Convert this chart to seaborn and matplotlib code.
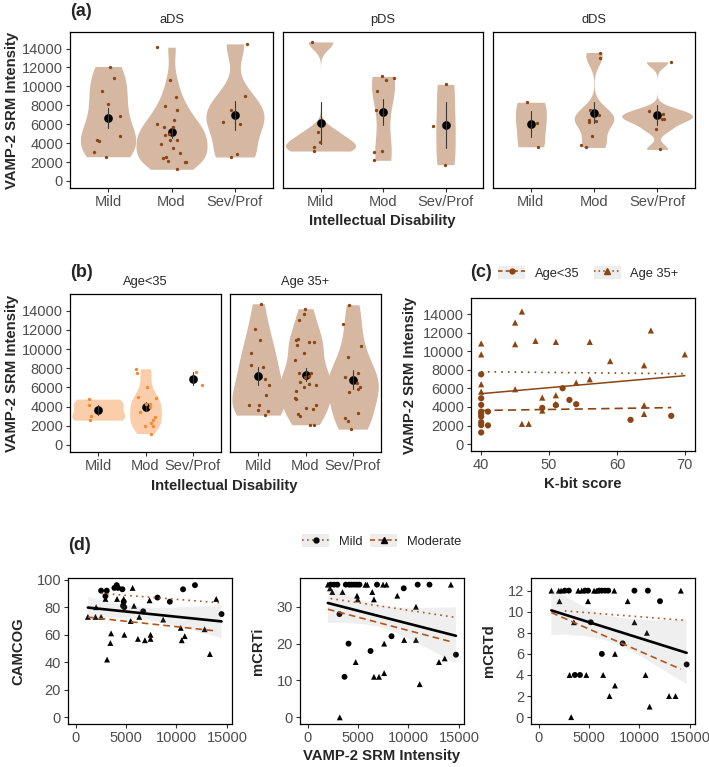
import numpy as np
import pandas as pd
import matplotlib
matplotlib.use("Agg")
import matplotlib.pyplot as plt
import seaborn as sns
from matplotlib.lines import Line2D
from matplotlib.patches import Patch

# ---- data ----
levels = ["Mild", "Mod", "Sev/Prof"]

# (a) VAMP-2 by region and ID level
ads_mild = [12100, 10880, 9540, 8100, 6840, 4740, 4320, 4210, 3050, 2560]
ads_mod = [14140, 10700, 8880, 7900, 7470, 6420, 5970, 5720, 5650, 4910, 4840,
           4320, 4280, 3930, 3470, 2910, 2530, 2390, 2100, 2000, 1970, 1230]
ads_sev = [14490, 8950, 7540, 6210, 6000, 2840, 2530]
pds_mild = [14700, 5160, 4070, 3540, 3160]
pds_mod = [11050, 10910, 10630, 9540, 7540, 3190, 3050, 2180]
pds_sev = [10210, 5830, 1720]
dds_mild = [8320, 6100, 3610]
dds_mod = [13580, 12980, 7540, 7020, 6490, 6350, 6210, 4700, 3750, 3540]
dds_sev = [12600, 7440, 7090, 6600, 6530, 5510, 3330]

# (b) VAMP-2 by age group and ID level
young_mild = [4770, 4150, 3000, 2580]
young_mod = [7940, 7490, 5990, 4950, 4840, 4280, 4250, 3940, 3450, 2930, 2540,
             2330, 1990, 1920, 1180]
young_sev = [7560, 6230]
old_mild = [14730, 12120, 10940, 9580, 8360, 8120, 6860, 6230, 5160, 4150, 4110,
            3590, 3520, 3100]
old_mod = [14210, 13660, 13030, 11040, 10940, 10760, 10690, 10450, 9610, 8850,
           7520, 7490, 7210, 7040, 6510, 6340, 6270, 6030, 5610, 4880, 4740,
           4180, 3800, 3760, 3170, 3030, 2120, 2090]
old_sev = [14630, 12610, 10270, 9190, 7520, 7070, 6480, 6030, 5850, 5470, 3310,
           2820, 2440, 1640]

# (c) K-bit score vs VAMP-2
kbit_young = [40, 40, 40, 40, 40, 40, 40, 40, 40, 41, 41, 49, 51, 52, 53, 54, 62, 68]
vamp_young = [7520, 4940, 4220, 3500, 3250, 2970, 2360, 2040, 1250, 3500, 2010,
              3900, 4200, 6020, 4760, 4300, 2610, 3040]
kbit_old = [40, 40, 40, 40, 45, 45, 45, 46, 46, 47, 48, 49, 49, 51, 51, 51, 54,
            56, 56, 59, 64, 65, 64, 64, 70]
vamp_old = [10850, 9670, 6450, 5650, 13100, 10770, 5910, 14290, 2180, 2180, 11130,
            5010, 3610, 11020, 5260, 4330, 6620, 11020, 6980, 8950, 8490, 12250,
            4190, 3250, 9670]

# (d) cognitive scores vs VAMP-2
cam_mild_x = [2530, 2960, 3090, 3850, 4080, 4210, 4640, 4700, 4770, 4830, 6700,
              8120, 9340, 10650, 11830, 14460]
cam_mild_y = [92, 88, 92, 94, 96, 94, 93, 81, 84, 80, 77, 87, 84, 93, 96, 75]
cam_mod_x = [1220, 1970, 2040, 2530, 2960, 3120, 3450, 3520, 4110, 4770, 4830,
             5460, 5650, 5790, 6180, 6310, 6870, 7330, 7430, 7430, 8680, 10420,
             10520, 10820, 12790, 13310, 13940]
cam_mod_y = [73, 73, 80, 73, 86, 42, 54, 61, 86, 86, 60, 70, 94, 81, 57, 73, 56,
             85, 60, 57, 71, 65, 56, 59, 64, 46, 86]

crti_mild_x = [2280, 2620, 2950, 3160, 3660, 3790, 4060, 4130, 4360, 4630, 4900,
               5140, 6240, 6880, 8320, 9530, 10910, 12080, 14700]
crti_mild_y = [36, 36, 36, 28, 11, 36, 20, 36, 36, 36, 36, 36, 18, 36, 22, 35,
               36, 36, 17]
crti_mod_x = [2010, 2220, 2450, 3190, 3460, 4770, 4900, 4970, 5740, 5910, 6410,
              6580, 6580, 7080, 7480, 7590, 7590, 7820, 8890, 9570, 10740, 10740,
              11110, 13020, 13590, 14200]
crti_mod_y = [36, 35, 34, 0, 34, 15, 33, 32, 36, 36, 34, 32, 11, 11, 36, 20, 12,
              36, 33, 21, 30, 21, 9, 15, 16, 36]

crtd_mild_x = [2600, 3000, 3600, 4100, 4600, 4900, 5170, 6000, 6270, 6270, 6600,
               6900, 8330, 9500, 10830, 12030, 14670]
crtd_mild_y = [12, 12, 4, 4, 12, 12, 9, 12, 12, 6, 12, 12, 7, 12, 12, 11, 5]
crtd_mod_x = [1270, 2000, 2070, 2230, 3070, 3230, 3500, 3930, 4270, 4730, 4900,
              5500, 5730, 6400, 7030, 7500, 7570, 7570, 8830, 9500, 10600, 10730,
              11000, 12930, 13570, 14100]
crtd_mod_y = [12, 12, 11, 12, 4, 0, 9, 12, 12, 4, 11, 12, 12, 4, 2, 12, 6, 3, 11,
              9, 4, 8, 1, 2, 2, 12]

# ---- style ----
sns.set_theme(style="ticks")
plt.rcParams["font.family"] = ["Liberation Sans", "DejaVu Sans"]

brown = "#8B4513"
tan_fill = "#D5B7A2"
orange = "#F28A2E"
peach_fill = "#FCCDAA"
line_brown = "#B0561E"
W, H = 709, 767


def box(l, t, r, b):
    return [l / W, 1 - b / H, (r - l) / W, (b - t) / H]


def ftext(x, y, s, **kw):
    fig.text(x / W, 1 - y / H, s, ha=kw.pop("ha", "center"), va="center", **kw)


def style_axes(ax, inner=False):
    for sp in ax.spines.values():
        sp.set_visible(True)
        sp.set_color("black")
        sp.set_linewidth(0.9)
    ax.tick_params(length=3, width=0.8, color="#333333", labelcolor="#4D4D4D",
                   labelsize=10.5, pad=2)
    if inner:
        ax.tick_params(axis="y", left=False, labelleft=False)
    ax.set_xlabel("")
    ax.set_ylabel("")


def nrd0(kde):
    # R's default bandwidth (bw.nrd0), returned as a factor of the sd
    x = kde.dataset[0]
    sd = x.std(ddof=1)
    q75, q25 = np.percentile(x, [75, 25])
    lo = min(sd, (q75 - q25) / 1.34) or sd
    return 0.9 * lo * len(x) ** -0.2 / sd


def long_df(groups):
    rows = []
    for lvl, vals in zip(levels, groups):
        rows += [(lvl, v) for v in vals]
    return pd.DataFrame(rows, columns=["level", "vamp"])


def violin_panel(ax, df, fill, dot):
    counts = df["level"].map(df["level"].value_counts())
    sns.violinplot(data=df[counts >= 3], x="level", y="vamp", order=levels,
                   color=fill, saturation=1, inner=None, linewidth=0, cut=0,
                   width=1.12, density_norm="area", bw_method=nrd0, ax=ax)
    sns.stripplot(data=df, x="level", y="vamp", order=levels, color=dot,
                  size=2.4, jitter=0.24, linewidth=0, ax=ax)
    sns.pointplot(data=df, x="level", y="vamp", order=levels, errorbar="se",
                  color="black", linestyle="none", markersize=4.2,
                  err_kws={"linewidth": 0.8, "color": "#3A3A3A"}, ax=ax)
    ax.set_xlim(-0.6, 2.6)
    ax.set_ylim(-750, 15750)
    ax.set_yticks(np.arange(0, 14001, 2000))


np.random.seed(3)
fig = plt.figure(figsize=(W / 100, H / 100), dpi=100)

# ---- (a) ----
a_sets = [("aDS", [ads_mild, ads_mod, ads_sev], (70, 273)),
          ("pDS", [pds_mild, pds_mod, pds_sev], (283, 483)),
          ("dDS", [dds_mild, dds_mod, dds_sev], (493, 695))]
for i, (name, groups, (l, r)) in enumerate(a_sets):
    ax = fig.add_axes(box(l, 32, r, 188))
    violin_panel(ax, long_df(groups), tan_fill, brown)
    style_axes(ax, inner=i > 0)
    ftext((l + r) / 2, 20, name, fontsize=9.3)
ftext(70, 11, "(a)", ha="left", fontsize=13, fontweight="bold")
ftext(382, 221, "Intellectual Disability", fontsize=10.7, fontweight="bold")
ftext(12, 110, "VAMP-2 SRM Intensity", rotation=90, fontsize=10.7, fontweight="bold")

# ---- (b) ----
b_sets = [("Age<35", [young_mild, young_mod, young_sev], (70, 221), peach_fill, orange),
          ("Age 35+", [old_mild, old_mod, old_sev], (230, 381), tan_fill, brown)]
for i, (name, groups, (l, r), fill, dot) in enumerate(b_sets):
    ax = fig.add_axes(box(l, 294, r, 452))
    violin_panel(ax, long_df(groups), fill, dot)
    style_axes(ax, inner=i > 0)
    ftext((l + r) / 2, 282, name, fontsize=9.3)
ftext(70, 272, "(b)", ha="left", fontsize=13, fontweight="bold")
ftext(224, 486, "Intellectual Disability", fontsize=10.7, fontweight="bold")
ftext(12, 373, "VAMP-2 SRM Intensity", rotation=90, fontsize=10.7, fontweight="bold")

# ---- (c) ----
dc = pd.DataFrame({
    "kbit": kbit_young + kbit_old,
    "vamp": vamp_young + vamp_old,
    "age": ["Age<35"] * len(kbit_young) + ["Age 35+"] * len(kbit_old),
})
axc = fig.add_axes(box(471, 298, 695, 451))
sns.scatterplot(data=dc, x="kbit", y="vamp", style="age",
                markers={"Age<35": "o", "Age 35+": "^"}, color=brown, s=20,
                linewidth=0, legend=False, ax=axc)
sns.regplot(data=dc, x="kbit", y="vamp", scatter=False, ci=None, color=brown,
            line_kws={"lw": 1.1}, ax=axc)
for age, ls in [("Age<35", (0, (5, 3))), ("Age 35+", (0, (1, 3)))]:
    sns.regplot(data=dc[dc["age"] == age], x="kbit", y="vamp", scatter=False,
                ci=None, color=brown, line_kws={"lw": 1.2, "ls": ls}, ax=axc)
axc.set_xlim(38.5, 71.5)
axc.set_ylim(-750, 15750)
axc.set_xticks([40, 50, 60, 70])
axc.set_yticks(np.arange(0, 14001, 2000))
style_axes(axc)
ftext(470, 272, "(c)", ha="left", fontsize=13, fontweight="bold")
ftext(583, 484, "K-bit score", fontsize=10.7, fontweight="bold")
ftext(410, 375, "VAMP-2 SRM Intensity", rotation=90, fontsize=10.7, fontweight="bold")

key_bg = "#EDEDED"
h_young = (Patch(facecolor=key_bg, edgecolor="none"),
           Line2D([], [], color=brown, ls=(0, (3, 2)), lw=1.1, marker="o", ms=3.5))
h_old = (Patch(facecolor=key_bg, edgecolor="none"),
         Line2D([], [], color=brown, ls=(0, (1, 2)), lw=1.1, marker="^", ms=4))
fig.legend([h_young, h_old], ["Age<35", "Age 35+"], loc="center left",
           bbox_to_anchor=(498 / W, 1 - 273 / H), ncol=2, frameon=False,
           fontsize=9.3, handlelength=2.1, handleheight=1.2, handletextpad=0.75,
           columnspacing=1.1, borderpad=0, borderaxespad=0)

# ---- (d) ----
d_sets = [("CAMCOG", cam_mild_x, cam_mild_y, cam_mod_x, cam_mod_y, (68, 232),
           (-4.8, 101.2), np.arange(0, 101, 20), 18),
          ("mCRTi", crti_mild_x, crti_mild_y, crti_mod_x, crti_mod_y, (300, 464),
           (-1.8, 37.8), [0, 10, 20, 30], 258),
          ("mCRTd", crtd_mild_x, crtd_mild_y, crtd_mod_x, crtd_mod_y, (531, 695),
           (-0.65, 13.2), np.arange(0, 13, 2), 489)]
for name, mx, my, dx, dy, (l, r), ylim, yticks, lx in d_sets:
    dd = pd.DataFrame({"vamp": mx + dx, "score": my + dy,
                       "grp": ["Mild"] * len(mx) + ["Moderate"] * len(dx)})
    ax = fig.add_axes(box(l, 578, r, 724))
    sns.scatterplot(data=dd, x="vamp", y="score", style="grp",
                    markers={"Mild": "o", "Moderate": "^"}, color="black", s=18,
                    linewidth=0, legend=False, ax=ax)
    n_before = len(ax.collections)
    sns.regplot(data=dd, x="vamp", y="score", scatter=False, color="black",
                seed=1, n_boot=2000, line_kws={"lw": 1.9, "zorder": 5}, ax=ax)
    for band in ax.collections[n_before:]:
        band.set_facecolor((0.6, 0.6, 0.6, 0.4))
        band.set_edgecolor("none")
    for grp, ls in [("Mild", (0, (1, 2.5))), ("Moderate", (0, (4, 2.5)))]:
        sns.regplot(data=dd[dd["grp"] == grp], x="vamp", y="score", scatter=False,
                    ci=None, color=line_brown, line_kws={"lw": 1.2, "ls": ls}, ax=ax)
    ax.set_xlim(-750, 15500)
    ax.set_ylim(*ylim)
    ax.set_xticks([0, 5000, 10000, 15000])
    ax.set_yticks(yticks)
    style_axes(ax)
    ftext(lx, 651, name, rotation=90, fontsize=10.7, fontweight="bold")
ftext(68, 545, "(d)", ha="left", fontsize=13, fontweight="bold")
ftext(382, 756, "VAMP-2 SRM Intensity", fontsize=10.7, fontweight="bold")

h_mild = (Patch(facecolor=key_bg, edgecolor="none"),
          Line2D([], [], color=line_brown, ls=(0, (1, 2)), lw=1.2, marker="o",
                 mfc="black", mec="black", ms=3.5))
h_mod = (Patch(facecolor=key_bg, edgecolor="none"),
         Line2D([], [], color=line_brown, ls=(0, (3, 2)), lw=1.2, marker="^",
                mfc="black", mec="black", ms=4))
fig.legend([h_mild, h_mod], ["Mild", "Moderate"], loc="center left",
           bbox_to_anchor=(302 / W, 1 - 541 / H), ncol=2, frameon=False,
           fontsize=9.3, handlelength=2.1, handleheight=1.2, handletextpad=0.75,
           columnspacing=0.6, borderpad=0, borderaxespad=0)

fig.savefig("out.png", dpi=100)
